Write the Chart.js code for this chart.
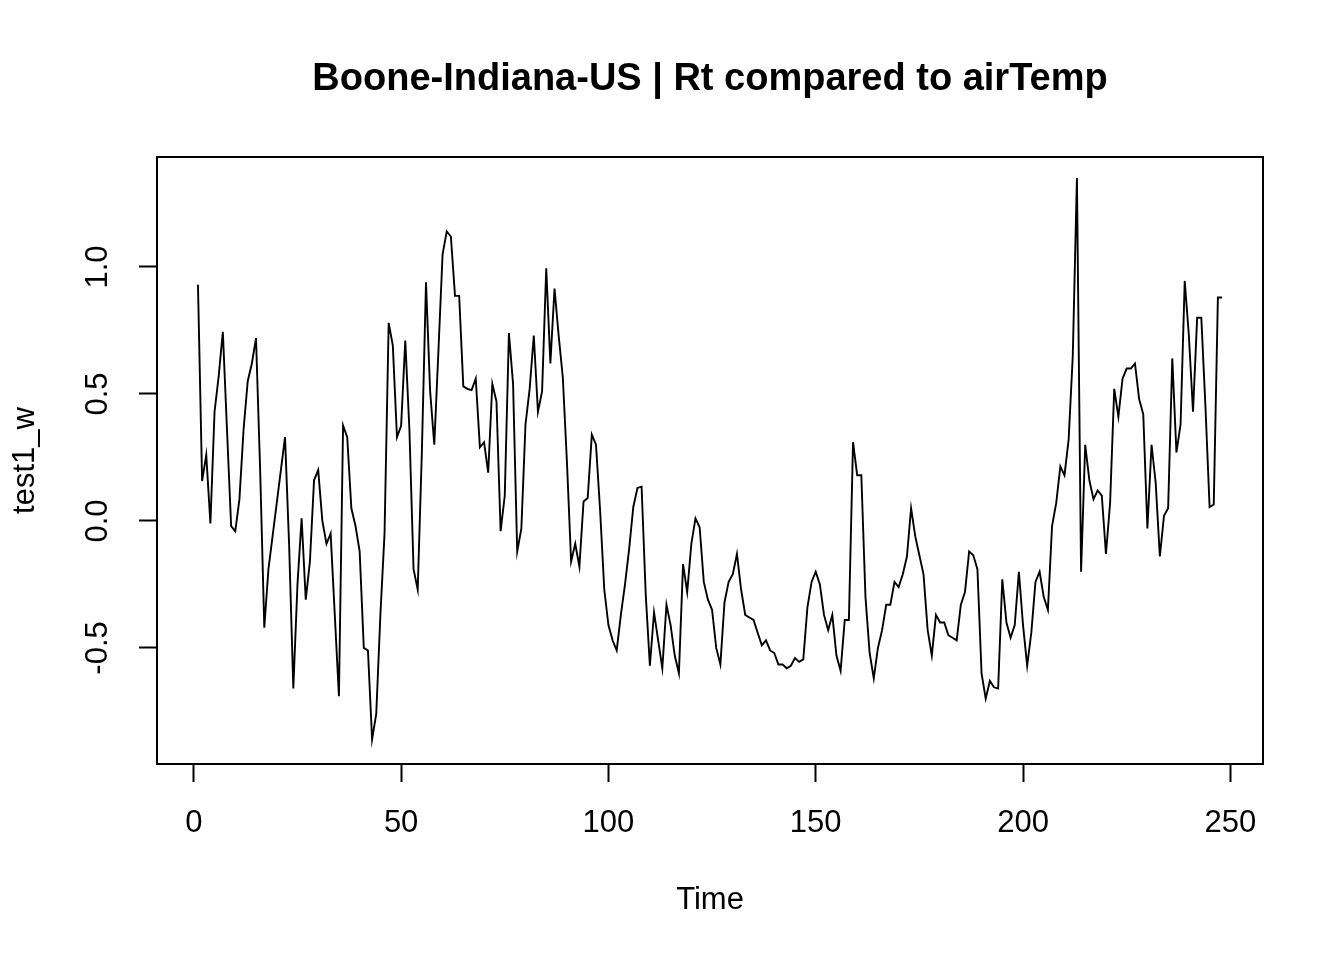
<!DOCTYPE html>
<html>
<head>
<meta charset="utf-8">
<script src="https://cdn.jsdelivr.net/npm/chart.js@4"></script>
<style>
  html, body { margin: 0; padding: 0; background: #fff; }
  canvas { display: block; }
</style>
</head>
<body>
<canvas id="ts_chart" width="1344" height="960"></canvas>
<script>
// Values, one per time step (t = 1 .. 248)
var test1_w = [
  0.93, 0.157, 0.26, -0.01, 0.43, 0.57, 0.745, 0.36, -0.02, -0.04,
  0.085, 0.36, 0.55, 0.62, 0.72, 0.2, -0.42, -0.19, -0.06, 0.07,
  0.2, 0.33, -0.1, -0.66, -0.25, 0.01, -0.31, -0.16, 0.16, 0.2,
  0.0, -0.09, -0.05, -0.37, -0.69, 0.376, 0.33, 0.05, -0.02, -0.12,
  -0.5, -0.51, -0.86, -0.76, -0.37, -0.05, 0.78, 0.69, 0.33, 0.375,
  0.71, 0.36, -0.19, -0.27, 0.27, 0.94, 0.51, 0.30, 0.67, 1.05,
  1.14, 1.12, 0.886, 0.886, 0.53, 0.52, 0.515, 0.56, 0.29, 0.31,
  0.19, 0.54, 0.47, -0.04, 0.1, 0.74, 0.54, -0.12, -0.03, 0.38,
  0.52, 0.73, 0.43, 0.51, 0.995, 0.62, 0.915, 0.73, 0.565, 0.23,
  -0.16, -0.09, -0.18, 0.077, 0.09, 0.34, 0.30, 0.04, -0.27, -0.41,
  -0.47, -0.51, -0.37, -0.25, -0.11, 0.055, 0.13, 0.135, -0.29, -0.57,
  -0.36, -0.47, -0.58, -0.33, -0.41, -0.53, -0.6, -0.17, -0.28, -0.09,
  0.01, -0.025, -0.24, -0.31, -0.35, -0.50, -0.565, -0.32, -0.24, -0.21,
  -0.13, -0.27, -0.37, -0.38, -0.39, -0.44, -0.49, -0.47, -0.51, -0.52,
  -0.565, -0.565, -0.58, -0.57, -0.54, -0.555, -0.545, -0.34, -0.24, -0.2,
  -0.25, -0.37, -0.43, -0.37, -0.53, -0.59, -0.39, -0.39, 0.31, 0.18,
  0.18, -0.3, -0.52, -0.62, -0.50, -0.43, -0.33, -0.33, -0.24, -0.26,
  -0.21, -0.14, 0.05, -0.06, -0.135, -0.21, -0.43, -0.53, -0.37, -0.40,
  -0.40, -0.45, -0.46, -0.47, -0.33, -0.28, -0.12, -0.135, -0.19, -0.60,
  -0.70, -0.63, -0.655, -0.66, -0.23, -0.40, -0.46, -0.41, -0.2, -0.41,
  -0.57, -0.44, -0.24, -0.2, -0.30, -0.35, -0.02, 0.07, 0.215, 0.18,
  0.32, 0.65, 1.35, -0.2, 0.3, 0.16, 0.085, 0.12, 0.1, -0.13,
  0.07, 0.52, 0.41, 0.56, 0.60, 0.60, 0.62, 0.48, 0.42, -0.03,
  0.30, 0.15, -0.14, 0.02, 0.05, 0.64, 0.27, 0.38, 0.945, 0.73,
  0.43, 0.80, 0.80, 0.45, 0.055, 0.065, 0.88, 0.88
];
var startTime = 1;

// Tick labels
var xTicks = [0, 50, 100, 150, 200, 250];
var yTicks = [-0.5, 0.0, 0.5, 1.0];

var chartTitle = 'Boone-Indiana-US | Rt compared to airTemp';
var xTitle = 'Time';
var yTitle = 'test1_w';

var FONT = '"Liberation Sans", Arial, Helvetica, sans-serif';

    // Function used to draw the box, the title and the rotated y labels
    var rPlotExtras = {
        id: 'rPlotExtras',
        afterDraw: function (chart) {
            var ctx = chart.ctx;
            var area = chart.chartArea;
            var yScale = chart.scales.y;
            ctx.save();
            ctx.strokeStyle = '#000';
            ctx.lineWidth = 2;
            ctx.strokeRect(area.left, area.top, area.right - area.left, area.bottom - area.top);

            ctx.fillStyle = '#000';
            ctx.font = 'bold 38px ' + FONT;
            ctx.textAlign = 'center';
            ctx.textBaseline = 'middle';
            ctx.fillText(chartTitle, (area.left + area.right) / 2, 80);

            ctx.font = '31px ' + FONT;
            yScale.ticks.forEach(function (tick) {
                var py = yScale.getPixelForValue(tick.value);
                ctx.save();
                ctx.translate(98, py);
                ctx.rotate(-Math.PI / 2);
                ctx.fillText(tick.value.toFixed(1), 0, 0);
                ctx.restore();
            });
            ctx.restore();
        }
    };

    function drawSeries() {
        var points = [];
        for (var i = 0; i < test1_w.length; i++) {
            points.push({ x: startTime + i, y: test1_w[i] });
        }
        var ctx = document.getElementById('ts_chart').getContext('2d');
        var config = {
            type: 'line',
            data: {
                datasets: [{
                    label: yTitle,
                    data: points,
                    borderColor: '#000',
                    borderWidth: 1.9,
                    pointRadius: 0,
                    fill: false,
                    tension: 0
                }]
            },
            options: {
                responsive: false,
                animation: false,
                devicePixelRatio: 1,
                layout: {
                    padding: { top: 157, right: 81, left: 0, bottom: 0 }
                },
                scales: {
                    x: {
                        type: 'linear',
                        min: -8.88,
                        max: 257.88,
                        afterBuildTicks: function (scale) {
                            scale.ticks = xTicks.map(function (v) { return { value: v }; });
                        },
                        afterFit: function (scale) { scale.height = 196; },
                        border: { display: false },
                        grid: {
                            drawOnChartArea: false,
                            drawTicks: true,
                            tickLength: 18,
                            tickWidth: 2,
                            tickColor: '#000'
                        },
                        ticks: {
                            color: '#000',
                            font: { family: FONT, size: 31 },
                            padding: 23,
                            maxRotation: 0,
                            autoSkip: false
                        },
                        title: {
                            display: true,
                            text: xTitle,
                            color: '#000',
                            font: { family: FONT, size: 31 },
                            padding: { top: 0, bottom: 41 }
                        }
                    },
                    y: {
                        type: 'linear',
                        min: -0.957,
                        max: 1.433,
                        afterBuildTicks: function (scale) {
                            scale.ticks = yTicks.map(function (v) { return { value: v }; });
                        },
                        afterFit: function (scale) { scale.width = 157; },
                        border: { display: false },
                        grid: {
                            drawOnChartArea: false,
                            drawTicks: true,
                            tickLength: 18,
                            tickWidth: 2,
                            tickColor: '#000'
                        },
                        ticks: { display: false },
                        title: {
                            display: true,
                            text: yTitle,
                            color: '#000',
                            font: { family: FONT, size: 31 },
                            padding: { top: 6.5, bottom: 0 }
                        }
                    }
                },
                plugins: {
                    legend: { display: false },
                    tooltip: { enabled: false }
                }
            },
            plugins: [rPlotExtras]
        };
        new Chart(ctx, config);
    }

    drawSeries();
</script>
</body>
</html>
